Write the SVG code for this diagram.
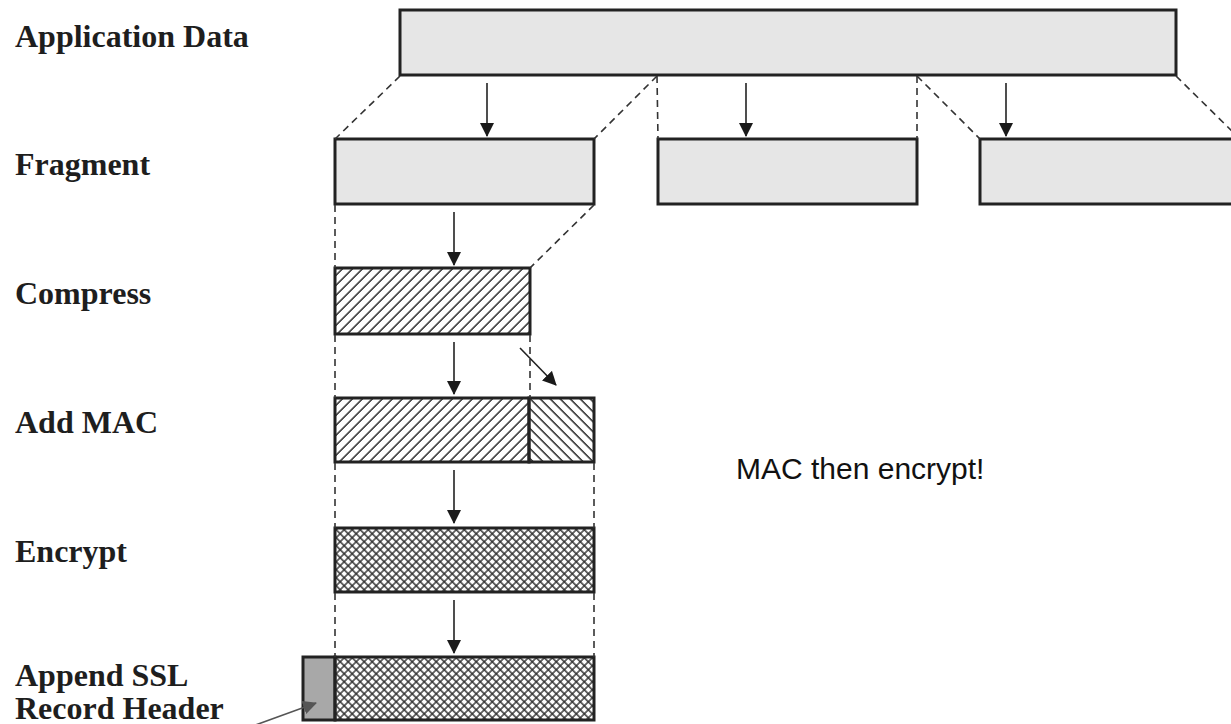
<svg xmlns="http://www.w3.org/2000/svg" width="1231" height="724" viewBox="0 0 1231 724">
  <style>
    .label { font-family: "Liberation Serif", "Times New Roman", serif; font-weight: bold; font-size: 32px; fill: #1e1e1e; }
    .note { font-family: "Liberation Sans", Arial, sans-serif; font-size: 30px; fill: #111; }
    .box { stroke: #222; stroke-width: 3; }
    .plain { fill: #e6e6e6; }
    .dash { stroke: #333; stroke-width: 1.6; stroke-dasharray: 7 5; fill: none; }
    .arrow { stroke: #222; stroke-width: 1.6; fill: none; marker-end: url(#head); }
  </style>
  <defs>
    <marker id="head" markerUnits="userSpaceOnUse" markerWidth="14" markerHeight="14" viewBox="0 0 14 14" refX="13" refY="7" orient="auto">
      <path d="M0,0 L14,7 L0,14 Z" fill="#1a1a1a"/>
    </marker>
    <marker id="headGray" markerUnits="userSpaceOnUse" markerWidth="14" markerHeight="14" viewBox="0 0 14 14" refX="13" refY="7" orient="auto">
      <path d="M0,0 L14,7 L0,14 Z" fill="#555"/>
    </marker>
    <!-- "/" hatch for compressed data -->
    <pattern id="hatchFwd" patternUnits="userSpaceOnUse" width="7.07" height="7.07" patternTransform="rotate(45)">
      <line x1="1" y1="0" x2="1" y2="7.07" stroke="#2a2a2a" stroke-width="1.5"/>
    </pattern>
    <!-- "\" hatch for the MAC -->
    <pattern id="hatchBack" patternUnits="userSpaceOnUse" width="7.07" height="7.07" patternTransform="rotate(-45)">
      <line x1="1" y1="0" x2="1" y2="7.07" stroke="#2a2a2a" stroke-width="1.5"/>
    </pattern>
    <!-- cross hatch for encrypted data -->
    <pattern id="cross" patternUnits="userSpaceOnUse" width="5.66" height="5.66" patternTransform="rotate(45)">
      <line x1="1" y1="0" x2="1" y2="5.66" stroke="#2a2a2a" stroke-width="1.4"/>
      <line x1="0" y1="1" x2="5.66" y2="1" stroke="#2a2a2a" stroke-width="1.4"/>
    </pattern>
  </defs>

  <rect width="1231" height="724" fill="#fff"/>

  <!-- row labels -->
  <g id="labels">
    <text class="label" x="15" y="47">Application Data</text>
    <text class="label" x="15" y="175">Fragment</text>
    <text class="label" x="15" y="304">Compress</text>
    <text class="label" x="15" y="433">Add MAC</text>
    <text class="label" x="15" y="562">Encrypt</text>
    <text class="label" x="15" y="686">Append SSL</text>
    <text class="label" x="15" y="719">Record Header</text>
  </g>

  <g id="application-data">
    <rect class="box plain" x="400" y="10" width="776" height="65"/>
  </g>
  <g id="fragment-1">
    <rect class="box plain" x="335" y="139" width="259" height="65"/>
  </g>
  <g id="fragment-2">
    <rect class="box plain" x="658" y="139" width="259" height="65"/>
  </g>
  <g id="fragment-3">
    <rect class="box plain" x="980" y="139" width="270" height="65"/>
  </g>
  <g id="compressed">
    <rect class="box" x="335" y="268" width="195" height="66" fill="url(#hatchFwd)"/>
  </g>
  <g id="mac-added">
    <rect class="box" x="335" y="398" width="194" height="64" fill="url(#hatchFwd)"/>
    <rect class="box" x="529" y="398" width="65" height="64" fill="url(#hatchBack)"/>
  </g>
  <g id="encrypted">
    <rect class="box" x="335" y="528" width="259" height="64" fill="url(#cross)"/>
  </g>
  <g id="ssl-record">
    <rect class="box" x="303" y="657" width="32" height="63" fill="#a8a8a8"/>
    <rect class="box" x="335" y="657" width="259" height="63" fill="url(#cross)"/>
  </g>

  <g id="connectors">
    <!-- application data split into fragments -->
    <line class="dash" x1="400" y1="76" x2="335" y2="139"/>
    <line class="dash" x1="657" y1="76" x2="594" y2="139"/>
    <line class="dash" x1="657" y1="76" x2="658" y2="139"/>
    <line class="dash" x1="917" y1="76" x2="917" y2="139"/>
    <line class="dash" x1="917" y1="76" x2="980" y2="139"/>
    <line class="dash" x1="1176" y1="76" x2="1240" y2="139"/>
    <!-- fragment to compressed -->
    <line class="dash" x1="335" y1="205" x2="335" y2="268"/>
    <line class="dash" x1="594" y1="205" x2="530" y2="268"/>
    <!-- compressed to MAC -->
    <line class="dash" x1="335" y1="335" x2="335" y2="398"/>
    <line class="dash" x1="530" y1="335" x2="530" y2="398"/>
    <!-- MAC to encrypted -->
    <line class="dash" x1="335" y1="463" x2="335" y2="528"/>
    <line class="dash" x1="594" y1="463" x2="594" y2="528"/>
    <!-- encrypted to record -->
    <line class="dash" x1="335" y1="593" x2="335" y2="657"/>
    <line class="dash" x1="594" y1="593" x2="594" y2="657"/>

    <line class="arrow" x1="487" y1="83" x2="487" y2="136"/>
    <line class="arrow" x1="746" y1="83" x2="746" y2="136"/>
    <line class="arrow" x1="1006" y1="83" x2="1006" y2="136"/>
    <line class="arrow" x1="454" y1="212" x2="454" y2="265"/>
    <line class="arrow" x1="454" y1="342" x2="454" y2="394"/>
    <line class="arrow" x1="520" y1="348" x2="556" y2="385"/>
    <line class="arrow" x1="454" y1="470" x2="454" y2="523"/>
    <line class="arrow" x1="454" y1="600" x2="454" y2="653"/>
    <!-- pointer to the record header -->
    <line x1="250" y1="727" x2="316" y2="703" stroke="#555" stroke-width="1.6" marker-end="url(#headGray)"/>
  </g>

  <g id="note">
    <text class="note" x="736" y="479">MAC then encrypt!</text>
  </g>
</svg>
